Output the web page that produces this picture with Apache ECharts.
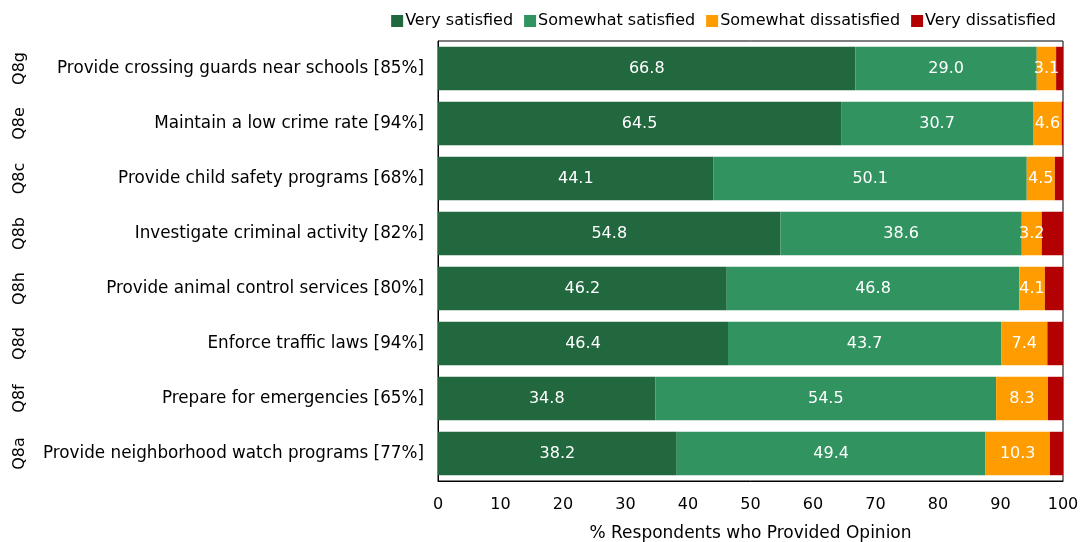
<!DOCTYPE html>
<html>
<head>
<meta charset="utf-8">
<script src="https://cdn.jsdelivr.net/npm/echarts@6/dist/echarts.min.js"></script>
<style>html,body{margin:0;padding:0;background:#fff}#c{width:1083px;height:542px}</style>
</head>
<body>
<div id="c"></div>
<script>
// Survey items, listed bottom to top as the category axis draws them
const codes = ['Q8a', 'Q8f', 'Q8d', 'Q8h', 'Q8b', 'Q8c', 'Q8e', 'Q8g'];
const items = [
  'Provide neighborhood watch programs [77%]',
  'Prepare for emergencies [65%]',
  'Enforce traffic laws [94%]',
  'Provide animal control services [80%]',
  'Investigate criminal activity [82%]',
  'Provide child safety programs [68%]',
  'Maintain a low crime rate [94%]',
  'Provide crossing guards near schools [85%]'
];
const verySatisfied = [38.2, 34.8, 46.4, 46.2, 54.8, 44.1, 64.5, 66.8];
const somewhatSatisfied = [49.4, 54.5, 43.7, 46.8, 38.6, 50.1, 30.7, 29.0];
const somewhatDissatisfied = [10.3, 8.3, 7.4, 4.1, 3.2, 4.5, 4.6, 3.1];
const veryDissatisfied = [2.1, 2.4, 2.5, 2.9, 3.4, 1.3, 0.2, 1.1];
const xTicks = [0, 10, 20, 30, 40, 50, 60, 70, 80, 90, 100];

const FONT = 'DejaVu Sans';
const chart = echarts.init(document.getElementById('c'));

function seg(name, data, color, showLabel) {
  return {
    name: name,
    type: 'bar',
    stack: 'total',
    data: data,
    barCategoryGap: '21%',
    itemStyle: { color: color },
    label: {
      show: showLabel,
      position: 'inside',
      color: '#fff',
      fontFamily: FONT,
      fontSize: 16,
      formatter: p => p.value.toFixed(1)
    }
  };
}

chart.setOption({
  animation: false,
  textStyle: { fontFamily: FONT },
  legend: {
    top: 8,
    right: 22,
    itemWidth: 12,
    itemHeight: 12,
    itemGap: 11,
    icon: 'rect',
    textStyle: { fontFamily: FONT, fontSize: 16, color: '#000', padding: [0, 0, 0, -3] }
  },
  grid: {
    left: 438, right: 20, top: 41, bottom: 61,
    outerBoundsMode: 'none',
    containLabel: false,
    show: true, borderColor: '#000', borderWidth: 1
  },
  xAxis: {
    type: 'value',
    min: 0, max: 100, interval: 10,
    name: '% Respondents who Provided Opinion',
    nameLocation: 'middle',
    nameGap: 44,
    nameTextStyle: { fontFamily: FONT, fontSize: 17, color: '#000' },
    axisLine: { show: true, lineStyle: { color: '#000' } },
    axisTick: { show: false },
    splitLine: { show: false },
    axisLabel: {
      fontFamily: FONT, fontSize: 16, color: '#000', margin: 16,
      formatter: v => xTicks.includes(v) ? String(v) : ''
    }
  },
  yAxis: [
    {
      type: 'category',
      data: items,
      axisLine: { show: true, lineStyle: { color: '#000' } },
      axisTick: { show: false },
      axisLabel: { fontFamily: FONT, fontSize: 16.8, color: '#000', margin: 14 }
    },
    {
      type: 'category',
      data: codes,
      position: 'left',
      offset: 410,
      axisLine: { show: false },
      axisTick: { show: false },
      axisLabel: { fontFamily: FONT, fontSize: 16, color: '#000', rotate: 90, margin: 0 }
    }
  ],
  series: [
    seg('Very satisfied', verySatisfied, '#22683f', true),
    seg('Somewhat satisfied', somewhatSatisfied, '#319360', true),
    seg('Somewhat dissatisfied', somewhatDissatisfied, '#ff9c00', true),
    seg('Very dissatisfied', veryDissatisfied, '#b30000', false)
  ]
});
</script>
</body>
</html>
